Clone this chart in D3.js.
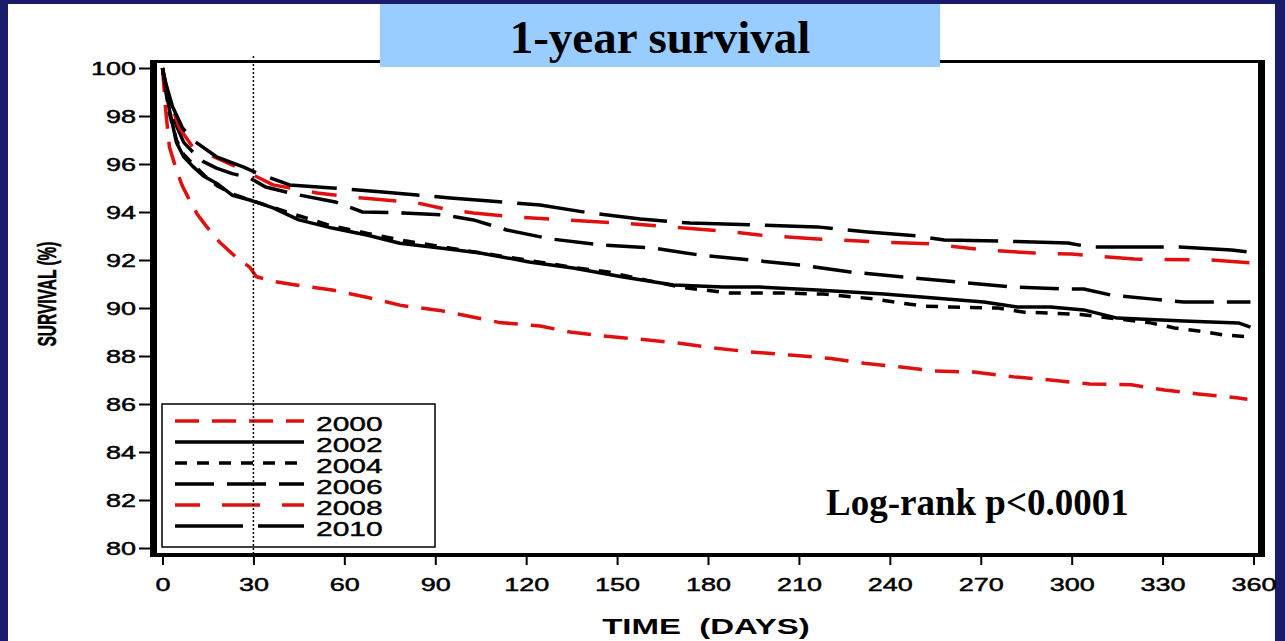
<!DOCTYPE html>
<html>
<head>
<meta charset="utf-8">
<script src="https://cdn.jsdelivr.net/npm/d3@7"></script>
<style>
  html, body { margin: 0; padding: 0; background: #1b1b6b; }
  svg { display: block; }
</style>
</head>
<body>
<svg id="chart" width="1285" height="641"></svg>
<script>
// Kaplan-Meier survival (%) by year of cohort, days 0-360
const years = ["2000", "2002", "2004", "2006", "2008", "2010"];

const days2000 = [0, 1, 2.3, 4.6, 6.5, 8.9, 11.5, 14.5, 18.8, 24.4, 28.8, 31, 37, 44, 56, 67, 79, 91.5, 111, 124.6, 134.5, 145.5, 157.7, 170, 182, 194, 207, 220.5, 231.5, 243.6, 254.6, 267.8, 281, 293, 306, 319.7, 330.6, 341.8, 355, 358];
const surv2000 = [100, 98.3, 96.7, 95.75, 95.1, 94.5, 93.9, 93.4, 92.75, 92.1, 91.7, 91.3, 91.1, 90.96, 90.75, 90.46, 90.1, 89.9, 89.4, 89.25, 89.0, 88.83, 88.7, 88.54, 88.33, 88.17, 88.04, 87.9, 87.7, 87.54, 87.38, 87.33, 87.13, 87.0, 86.83, 86.8, 86.58, 86.42, 86.25, 86.2];

const days2002 = [0, 1, 2.3, 4.6, 7, 10, 13.5, 17.8, 23, 28.8, 36.5, 45, 56, 67.4, 78.3, 91.6, 104.8, 121, 135.5, 152, 168.6, 185, 197, 216, 238, 254.6, 271, 282, 293, 304, 315, 337, 355, 359];
const surv2002 = [100, 99.2, 98.25, 96.9, 96.3, 95.9, 95.5, 95.2, 94.7, 94.5, 94.17, 93.67, 93.33, 93.04, 92.7, 92.5, 92.29, 91.92, 91.67, 91.29, 90.96, 90.88, 90.87, 90.75, 90.58, 90.42, 90.25, 90.04, 90.04, 89.92, 89.58, 89.46, 89.38, 89.2];

const days2004 = [0, 1, 2.3, 4.6, 7, 10, 14, 18, 23, 29, 35, 42, 55, 68, 80, 92, 105, 120, 135, 147, 160, 172, 187, 197, 203, 218, 234.7, 243.6, 251, 260, 275.7, 284, 292, 303, 326, 334, 342, 350, 359];
const surv2004 = [100, 99.1, 98.1, 97.0, 96.4, 96.0, 95.5, 95.1, 94.75, 94.5, 94.25, 93.96, 93.45, 93.1, 92.8, 92.55, 92.3, 92.0, 91.7, 91.5, 91.15, 90.85, 90.63, 90.63, 90.63, 90.58, 90.38, 90.21, 90.08, 90.04, 90.0, 89.83, 89.79, 89.73, 89.38, 89.17, 89.04, 88.88, 88.79];

const days2006 = [0, 1, 2.3, 4.6, 7, 10, 13.5, 17.8, 23, 28.8, 34, 45, 57, 66, 79.5, 92.6, 102.6, 113.6, 128, 144.5, 162, 177.5, 194, 210.6, 227, 244.6, 262.5, 280, 298.8, 304, 313, 326, 337, 359];
const surv2006 = [100, 99.3, 98.5, 97.6, 96.9, 96.5, 96.1, 95.83, 95.6, 95.42, 95.04, 94.71, 94.42, 94.0, 93.96, 93.88, 93.67, 93.25, 92.88, 92.63, 92.5, 92.2, 92.0, 91.79, 91.5, 91.29, 91.08, 90.88, 90.79, 90.79, 90.54, 90.38, 90.25, 90.25];

const days2008 = [0, 1, 2.3, 5.6, 10, 17.8, 26.6, 29, 36.5, 51, 66, 84, 95, 102.6, 117, 133.5, 151, 167.6, 185, 197, 216, 236, 253.6, 271, 287.6, 300, 320.7, 346, 359];
const surv2008 = [100, 99.4, 98.67, 97.5, 96.7, 96.25, 95.75, 95.6, 95.13, 94.79, 94.58, 94.38, 94.08, 93.96, 93.79, 93.67, 93.54, 93.38, 93.21, 93.04, 92.88, 92.75, 92.67, 92.42, 92.29, 92.25, 92.04, 92.0, 91.88];

const days2010 = [0, 1, 3.3, 6.6, 10, 17.8, 26.6, 31, 42, 56, 72.7, 84, 95, 108, 124.6, 141, 157.7, 174, 196, 216, 232.7, 249, 258, 276.7, 298.8, 306, 335.5, 352.7, 359];
const surv2010 = [100, 99.4, 98.4, 97.5, 97.0, 96.3, 95.88, 95.63, 95.13, 95.0, 94.83, 94.71, 94.58, 94.46, 94.29, 93.96, 93.71, 93.54, 93.46, 93.38, 93.17, 93.0, 92.83, 92.79, 92.71, 92.54, 92.54, 92.42, 92.33];

const xTicks = [0, 30, 60, 90, 120, 150, 180, 210, 240, 270, 300, 330, 360];
const yTicks = [80, 82, 84, 86, 88, 90, 92, 94, 96, 98, 100];
const landmarkDay = 30;

const seriesDays = [days2000, days2002, days2004, days2006, days2008, days2010];
const seriesSurv = [surv2000, surv2002, surv2004, surv2006, surv2008, surv2010];

// line styles per cohort
const colors = ["#e01010", "#000", "#000", "#000", "#e01010", "#000"];
const dashes = ["24,13", null, "12,10", "39,13", "25,22,38,22", "68,15"];

const SANS = "'Liberation Sans', Arial, Helvetica, sans-serif";
const SERIF = "'Liberation Serif', 'Times New Roman', Times, serif";

const svg = d3.select("#chart");
const W = 1285, H = 641;

// slide background + white panel
svg.append("rect").attr("width", W).attr("height", H).attr("fill", "#1b1b6b");
svg.append("rect").attr("x", 8).attr("y", 4).attr("width", 1267).attr("height", H - 4).attr("fill", "#fff");

const x = d3.scaleLinear().domain([0, 360]).range([162.5, 1253.5]);
const y = d3.scaleLinear().domain([80, 100]).range([548, 68]);

const SX = 1.5; // horizontal stretch of the plot's lettering

// frame
const frame = svg.append("g").attr("fill", "#000");
frame.append("rect").attr("x", 150).attr("y", 60).attr("width", 1115).attr("height", 3);
frame.append("rect").attr("x", 150).attr("y", 553).attr("width", 1115).attr("height", 4);
frame.append("rect").attr("x", 150).attr("y", 60).attr("width", 7).attr("height", 497);
frame.append("rect").attr("x", 1258).attr("y", 60).attr("width", 7).attr("height", 497);

// y axis
const gy = svg.append("g").attr("transform", "translate(150,0)")
  .call(d3.axisLeft(y).tickValues(yTicks).tickSize(11).tickFormat(d3.format("d")));
gy.select(".domain").remove();
gy.selectAll(".tick line").attr("stroke", "#000").attr("stroke-width", 2);
gy.selectAll(".tick text")
  .attr("x", null).attr("dy", "0.36em")
  .attr("transform", `translate(-14,0) scale(${SX},1)`)
  .attr("fill", "#000").attr("stroke", "#000").attr("stroke-width", 0.45)
  .style("font-size", "18px").style("font-family", SANS);

// x axis
const gx = svg.append("g").attr("transform", "translate(0,557)")
  .call(d3.axisBottom(x).tickValues(xTicks).tickSize(8).tickFormat(d3.format("d")));
gx.select(".domain").remove();
gx.selectAll(".tick line").attr("stroke", "#000").attr("stroke-width", 2);
gx.selectAll(".tick text")
  .attr("y", null).attr("dy", null)
  .attr("transform", `translate(0,34) scale(${SX},1)`)
  .attr("fill", "#000").attr("stroke", "#000").attr("stroke-width", 0.45)
  .style("font-size", "18px").style("font-family", SANS);

// axis titles
svg.append("text")
  .attr("transform", `translate(706,634) scale(${SX},1)`)
  .attr("text-anchor", "middle")
  .style("font-family", SANS).style("font-size", "22px").style("font-weight", "bold")
  .style("white-space", "pre")
  .text("TIME  (DAYS)");

svg.append("text")
  .attr("transform", `translate(56,294) scale(1.7,1) rotate(-90)`)
  .attr("text-anchor", "middle")
  .attr("stroke", "#000").attr("stroke-width", 0.3)
  .style("font-family", SANS).style("font-size", "15.5px").style("font-weight", "bold")
  .text("SURVIVAL (%)");

// survival curves
const line = d3.line().x(d => x(d[0])).y(d => y(d[1]));
const curves = svg.append("g").attr("fill", "none");
seriesDays.forEach((ds, i) => {
  const pts = ds.map((d, j) => [d, seriesSurv[i][j]]);
  curves.append("path")
    .attr("d", line(pts))
    .attr("stroke", colors[i])
    .attr("stroke-width", 3.5)
    .attr("stroke-dasharray", dashes[i])
    .attr("stroke-linejoin", "round");
});

// legend
const legend = svg.append("g");
legend.append("rect").attr("x", 162).attr("y", 404).attr("width", 273).attr("height", 143)
  .attr("fill", "#fff").attr("stroke", "#000").attr("stroke-width", 1.5);
const rowY = d3.scalePoint().domain(years).range([421, 526]);
years.forEach((yr, i) => {
  const ry = rowY(yr);
  legend.append("line").attr("x1", 175).attr("x2", 304).attr("y1", ry).attr("y2", ry)
    .attr("stroke", colors[i]).attr("stroke-width", 3.5).attr("stroke-dasharray", dashes[i]);
  legend.append("text")
    .attr("transform", `translate(316,${ry + 10}) scale(${SX},1)`)
    .attr("fill", "#000").attr("stroke", "#000").attr("stroke-width", 0.4)
    .style("font-size", "20px").style("font-family", SANS)
    .text(yr);
});

// 30-day landmark
svg.append("line")
  .attr("x1", x(landmarkDay)).attr("x2", x(landmarkDay)).attr("y1", 56).attr("y2", 553)
  .attr("stroke", "#000").attr("stroke-width", 1.5).attr("stroke-dasharray", "2,2");

// title
svg.append("rect").attr("x", 380).attr("y", 4).attr("width", 560).attr("height", 63).attr("fill", "#99ccff");
svg.append("text")
  .attr("x", 660).attr("y", 53).attr("text-anchor", "middle")
  .style("font-family", SERIF).style("font-weight", "bold").style("font-size", "47px")
  .text("1-year survival");

// log-rank annotation
svg.append("text")
  .attr("x", 826).attr("y", 515)
  .style("font-family", SERIF).style("font-weight", "bold").style("font-size", "37px")
  .text("Log-rank p<0.0001");
</script>
</body>
</html>
